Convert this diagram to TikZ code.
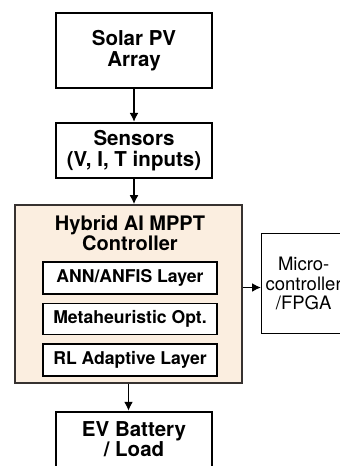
\documentclass[tikz,border=0pt]{standalone}
\usepackage{xcolor}
\usepackage{fontspec}
\setmainfont{TeX Gyre Heros}
\usepackage{tikz}
\usetikzlibrary{shapes,arrows,arrows.meta,positioning,fit,backgrounds}
\definecolor{ctrlbeige}{RGB}{251,238,224}
\definecolor{ctrledge}{RGB}{55,50,48}

\begin{document}
\begin{tikzpicture}[
    x=1pt, y=1pt,
    node distance=33pt,
    box/.style={rectangle, draw=black, line width=1.8pt, fill=white, minimum width=156pt, align=center, font=\fontsize{20.5}{21}\selectfont\bfseries, inner sep=0pt},
    layer/.style={rectangle, draw=black, line width=1.6pt, fill=white, minimum width=174pt, minimum height=32pt, align=center, font=\fontsize{17.6}{19}\selectfont\bfseries, inner sep=0pt},
    arrow/.style={-{Latex[length=9pt,width=9pt]}, line width=1.6pt}
]
    \useasboundingbox (0,0) rectangle (340,-466);
    \begin{scope}
    \clip (0,0) rectangle (340,-466);
    % Nodes
    \node[box, minimum height=75pt] (pv) at (134,-50.5) {Solar PV\\Array};
    \node[box, minimum height=55pt, below=of pv] (sensors) {Sensors\\(V, I, T inputs)};
    \node[rectangle, draw=ctrledge, line width=1.6pt, fill=ctrlbeige, minimum width=227pt, minimum height=178pt, inner sep=0pt] (ctrl) at (128.5,-294) {};
    \node[font=\fontsize{20}{20.5}\selectfont\bfseries, align=center, inner sep=0pt] (ctrltitle) at (130,-233) {Hybrid AI MPPT\\Controller};
    \node[layer] (ann) at (130,-278) {ANN/ANFIS Layer};
    \node[layer, minimum height=31pt, below=8pt of ann] (meta) {Metaheuristic Opt.};
    \node[layer, below=8pt of meta] (rl) {RL Adaptive Layer};
    \node[box, minimum height=75pt, below=27pt of ctrl, xshift=5.5pt] (ev) {};
    \node[font=\fontsize{20.5}{18.5}\selectfont\bfseries, align=center, inner sep=0pt] (evtext) at (134,-439) {EV Battery\\/ Load};
    \node[rectangle, draw=black, line width=1.3pt, fill=white, minimum width=84pt, minimum height=100pt, anchor=west, align=center, inner sep=0pt, font=\fontsize{18.5}{19.5}\selectfont] (micro) at (261,-283.5) {Micro-\\controller\\/FPGA};

    % Arrows
    \draw[arrow] (pv) -- (sensors);
    \draw[arrow] (sensors) -- (sensors |- ctrl.north);
    \draw[arrow] (ctrl.south) -- (ctrl.south |- ev.north);
    \draw[arrow] ([yshift=-4pt]micro.west -| ctrl.east) -- ([yshift=-4pt]micro.west);
    \end{scope}
\end{tikzpicture}
\end{document}
